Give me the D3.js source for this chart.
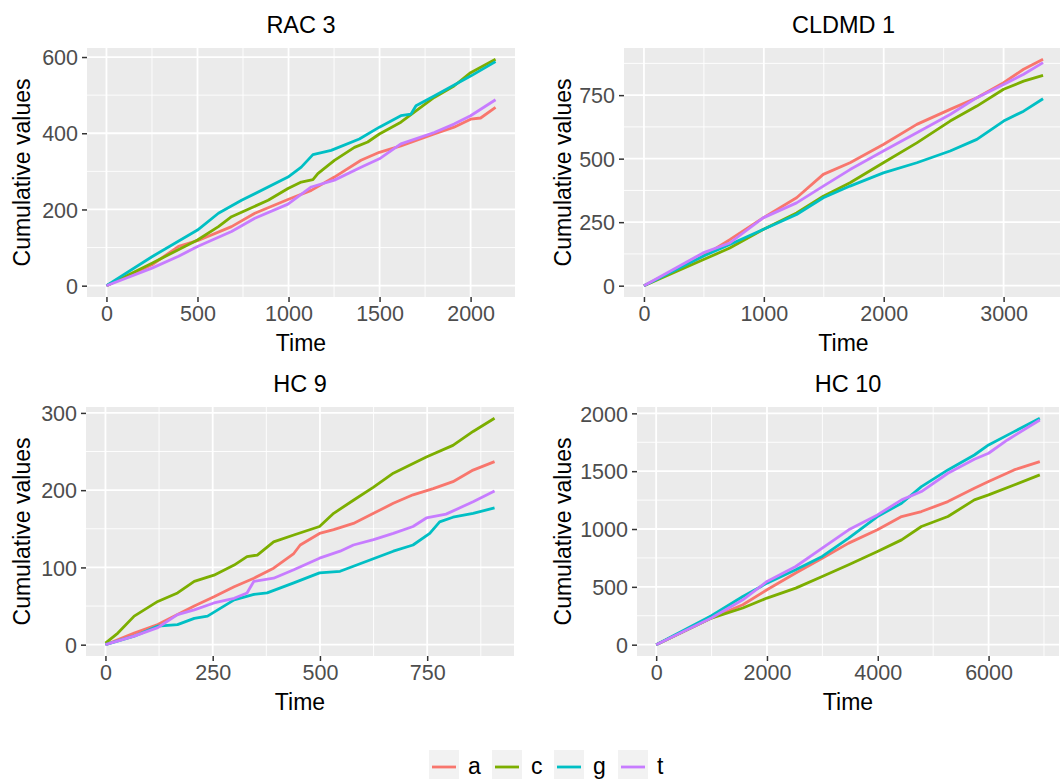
<!DOCTYPE html>
<html lang="en">
<head>
<meta charset="UTF-8">
<title>Cumulative values</title>
<style>
    body { margin: 0; background: #fff; }
    svg { display: block; font-family: "Liberation Sans", Arial, sans-serif; }
    .tick-label { fill: #4d4d4d; font-size: 21.5px; }
    .axis-title { fill: #000; font-size: 23px; }
    .panel-title { fill: #000; font-size: 23.5px; }
</style>
</head>
<body>
<svg id="chart" width="1060" height="779"></svg>
<script src="https://d3js.org/d3.v7.min.js"></script>
<script>
const seriesNames = ['a', 'c', 'g', 't'];
const seriesColors = ['#F8766D', '#7CAE00', '#00BFC4', '#C77CFF'];
const panelTitles = ['RAC 3', 'CLDMD 1', 'HC 9', 'HC 10'];

// tick values per panel
const xTicks = [[0, 500, 1000, 1500, 2000], [0, 1000, 2000, 3000], [0, 250, 500, 750], [0, 2000, 4000, 6000]];
const yTicks = [[0, 200, 400, 600], [0, 250, 500, 750], [0, 100, 200, 300], [0, 500, 1000, 1500, 2000]];

// values: [time, cumulative value]
const rac3 = {
    a: [[0,0],[250,55],[396,103],[500,118],[687,155],[815,190],[997,226],[1125,250],[1252,285],[1398,329],[1499,350],[1617,367],[1800,398],[1909,416],[2000,437],[2055,440],[2137,468]],
    c: [[0,0],[250,59],[500,120],[615,155],[687,181],[888,224],[997,255],[1070,272],[1134,278],[1161,294],[1252,329],[1362,363],[1435,377],[1499,398],[1617,429],[1700,459],[1800,494],[1909,524],[2000,559],[2137,594]],
    g: [[0,0],[250,76],[500,146],[615,190],[742,224],[997,285],[1070,311],[1134,344],[1234,355],[1389,385],[1499,416],[1617,446],[1672,450],[1700,472],[1800,498],[2000,550],[2137,588]],
    t: [[0,0],[250,46],[396,77],[500,103],[687,142],[815,177],[997,214],[1125,259],[1252,277],[1398,311],[1499,333],[1617,372],[1800,402],[1909,424],[2000,446],[2137,488]]
};
const cldmd1 = {
    a: [[0,0],[493,116],[716,181],[994,267],[1273,346],[1496,438],[1719,484],[1997,556],[2276,635],[2554,694],[2777,740],[3000,799],[3167,852],[3329,891]],
    c: [[0,0],[493,102],[716,148],[994,221],[1273,286],[1496,352],[1719,405],[1997,484],[2276,562],[2554,648],[2777,707],[3000,773],[3167,805],[3329,828]],
    g: [[0,0],[493,116],[716,162],[994,221],[1273,280],[1496,346],[1719,392],[1997,444],[2276,484],[2554,530],[2777,576],[3000,648],[3167,687],[3329,736]],
    t: [[0,0],[493,129],[716,168],[994,267],[1273,326],[1496,392],[1719,457],[1997,530],[2276,602],[2554,674],[2777,740],[3000,792],[3167,832],[3329,878]]
};
const hc9 = {
    a: [[0,0],[67,15],[122,26],[207,50],[253,62],[300,75],[346,86],[392,99],[439,118],[454,129],[499,144],[532,149],[578,157],[625,170],[671,183],[717,194],[764,202],[810,211],[857,226],[907,237]],
    c: [[0,2],[29,15],[67,37],[122,56],[168,67],[207,82],[253,90],[300,103],[330,114],[354,116],[392,133],[439,142],[499,153],[532,170],[578,187],[625,204],[671,222],[748,243],[810,258],[857,276],[907,293]],
    g: [[0,0],[67,11],[122,24],[168,26],[207,34],[238,37],[300,58],[346,65],[377,67],[439,80],[499,93],[547,95],[609,108],[671,121],[717,129],[756,144],[779,159],[810,165],[857,170],[907,177]],
    t: [[0,0],[67,11],[122,22],[168,39],[207,45],[253,54],[300,60],[330,67],[346,82],[392,86],[439,97],[499,112],[547,121],[578,129],[625,136],[671,144],[717,153],[748,164],[794,169],[857,185],[907,199]]
};
const hc10 = {
    a: [[0,0],[997,230],[1564,345],[2000,475],[2519,619],[2997,748],[3475,878],[3994,993],[4430,1108],[4788,1151],[5266,1237],[5743,1353],[6000,1410],[6460,1511],[6925,1583]],
    c: [[0,0],[997,230],[1564,317],[2000,403],[2519,489],[2997,590],[3475,691],[3994,806],[4430,906],[4788,1022],[5266,1108],[5743,1252],[6000,1295],[6460,1381],[6925,1468]],
    g: [[0,0],[997,250],[1564,417],[2000,532],[2519,647],[2997,763],[3475,921],[3994,1108],[4430,1223],[4788,1367],[5266,1511],[5743,1640],[6000,1727],[6460,1842],[6925,1957]],
    t: [[0,0],[997,230],[1564,388],[2000,547],[2519,676],[2997,835],[3475,993],[3994,1122],[4430,1252],[4788,1324],[5266,1482],[5743,1603],[6000,1655],[6340,1770],[6925,1942]]
};
const panelData = [rac3, cldmd1, hc9, hc10];

// panel boxes in pixels: left, right, top, bottom
const boxes = [
    {l: 87, r: 515, t: 48, b: 297},
    {l: 624, r: 1063, t: 48, b: 297},
    {l: 86, r: 514, t: 407, b: 656},
    {l: 637, r: 1059, t: 407, b: 656}
];

const svg = d3.select('#chart');

// ggplot style 5% expansion
function expand(ext) {
    const pad = (ext[1] - ext[0]) * 0.05;
    return [ext[0] - pad, ext[1] + pad];
}

function minors(ticks) {
    const out = [];
    const step = ticks[1] - ticks[0];
    out.push(ticks[0] - step / 2);
    ticks.forEach(t => out.push(t + step / 2));
    return out;
}

panelData.forEach((data, i) => {
    const box = boxes[i];
    const all = seriesNames.flatMap(s => data[s]);
    const x = d3.scaleLinear().domain(expand(d3.extent(all, d => d[0]))).range([box.l, box.r]);
    const y = d3.scaleLinear().domain(expand(d3.extent(all, d => d[1]))).range([box.b, box.t]);

    const g = svg.append('g');

    g.append('rect')
        .attr('x', box.l).attr('y', box.t)
        .attr('width', box.r - box.l).attr('height', box.b - box.t)
        .attr('fill', '#EBEBEB');

    const [x0, x1] = x.domain();
    const [y0, y1] = y.domain();
    const xMin = minors(xTicks[i]).filter(v => v > x0 && v < x1);
    const yMin = minors(yTicks[i]).filter(v => v > y0 && v < y1);

    // minor grid
    g.selectAll('.gx-minor').data(xMin).enter().append('line')
        .attr('x1', d => x(d)).attr('x2', d => x(d))
        .attr('y1', box.t).attr('y2', box.b)
        .attr('stroke', '#fff').attr('stroke-width', 0.9);
    g.selectAll('.gy-minor').data(yMin).enter().append('line')
        .attr('y1', d => y(d)).attr('y2', d => y(d))
        .attr('x1', box.l).attr('x2', box.r)
        .attr('stroke', '#fff').attr('stroke-width', 0.9);

    // major grid
    g.selectAll('.gx').data(xTicks[i]).enter().append('line')
        .attr('x1', d => x(d)).attr('x2', d => x(d))
        .attr('y1', box.t).attr('y2', box.b)
        .attr('stroke', '#fff').attr('stroke-width', 1.8);
    g.selectAll('.gy').data(yTicks[i]).enter().append('line')
        .attr('y1', d => y(d)).attr('y2', d => y(d))
        .attr('x1', box.l).attr('x2', box.r)
        .attr('stroke', '#fff').attr('stroke-width', 1.8);

    // series lines
    const line = d3.line().x(d => x(d[0])).y(d => y(d[1]));
    seriesNames.forEach((s, k) => {
        g.append('path')
            .datum(data[s])
            .attr('d', line)
            .attr('fill', 'none')
            .attr('stroke', seriesColors[k])
            .attr('stroke-width', 2.8)
            .attr('stroke-linejoin', 'round');
    });

    // axes
    const xAxis = d3.axisBottom(x).tickValues(xTicks[i]).tickFormat(d3.format('d')).tickSize(5).tickPadding(4);
    const yAxis = d3.axisLeft(y).tickValues(yTicks[i]).tickFormat(d3.format('d')).tickSize(5).tickPadding(4);

    const gx = g.append('g').attr('transform', `translate(0,${box.b})`).call(xAxis);
    const gy = g.append('g').attr('transform', `translate(${box.l},0)`).call(yAxis);
    [gx, gy].forEach(a => {
        a.select('.domain').remove();
        a.selectAll('.tick line').attr('stroke', '#333').attr('stroke-width', 1.5);
        a.selectAll('.tick text').attr('class', 'tick-label').attr('font-family', null).attr('font-size', null);
    });
    gy.selectAll('.tick text').attr('dy', '0.36em');

    // titles
    g.append('text').attr('class', 'panel-title')
        .attr('x', (box.l + box.r) / 2).attr('y', box.t - 15)
        .attr('text-anchor', 'middle').text(panelTitles[i]);
    g.append('text').attr('class', 'axis-title')
        .attr('x', (box.l + box.r) / 2).attr('y', box.b + 54)
        .attr('text-anchor', 'middle').text('Time');
    const yl = (i % 2 === 0) ? 30 : 571;
    g.append('text').attr('class', 'axis-title')
        .attr('transform', `translate(${yl},${(box.t + box.b) / 2}) rotate(-90)`)
        .attr('text-anchor', 'middle').text('Cumulative values');
});

// legend
const legend = svg.append('g').attr('transform', 'translate(429,750)');
const keyStep = [0, 63, 125, 189];
seriesNames.forEach((s, k) => {
    const item = legend.append('g').attr('transform', `translate(${keyStep[k]},0)`);
    item.append('rect').attr('width', 30).attr('height', 32).attr('fill', '#F2F2F2');
    item.append('line').attr('x1', 3).attr('x2', 27).attr('y1', 17).attr('y2', 17)
        .attr('stroke', seriesColors[k]).attr('stroke-width', 2.8);
    item.append('text').attr('class', 'axis-title').attr('x', 39).attr('y', 24).text(s);
});
</script>
</body>
</html>
